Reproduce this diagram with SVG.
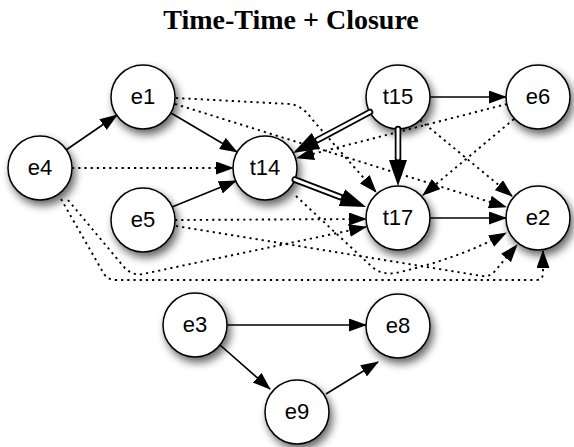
<svg xmlns="http://www.w3.org/2000/svg" width="574" height="447" viewBox="0 0 574 447">
<style>
.title{font-family:"Liberation Serif","Times New Roman",serif;font-weight:bold;font-size:28px;fill:#000}
.node circle{fill:#fff;stroke:#000;stroke-width:1.5}
.node text{font-family:"Liberation Sans",Arial,sans-serif;font-size:22px;fill:#000;text-anchor:middle}
.solid{fill:none;stroke:#000;stroke-width:1.6;marker-end:url(#arr)}
.dot{fill:none;stroke:#000;stroke-width:1.9;stroke-dasharray:2.2 4;marker-end:url(#arr)}
.dblout{fill:none;stroke:#000;stroke-width:6.5;stroke-linecap:round;marker-end:url(#big)}
.dblin{fill:none;stroke:#fff;stroke-width:3;stroke-linecap:round}
</style>
<defs>
<filter id="sh" x="-40%" y="-40%" width="190%" height="190%">
<feGaussianBlur in="SourceAlpha" stdDeviation="4"/>
<feOffset dx="3" dy="5" result="b"/>
<feComponentTransfer><feFuncA type="linear" slope="0.6"/></feComponentTransfer>
<feMerge><feMergeNode/><feMergeNode in="SourceGraphic"/></feMerge>
</filter>
<marker id="arr" viewBox="0 0 18 13" markerUnits="userSpaceOnUse" markerWidth="18" markerHeight="13" refX="17" refY="6.5" orient="auto">
<path d="M0,0 L18,6.5 L0,13 z" fill="#000" stroke="none"/>
</marker>
<marker id="big" viewBox="0 0 26 18" markerUnits="userSpaceOnUse" markerWidth="26" markerHeight="18" refX="0" refY="9" orient="auto">
<path d="M0,0 L26,9 L0,18 z" fill="#000" stroke="none"/>
</marker>
</defs>
<rect width="574" height="447" fill="#fff"/>
<text class="title" x="291" y="29" text-anchor="middle">Time-Time + Closure</text>
<g id="nodes">
<g id="e1" class="node"><circle cx="143" cy="97" r="32" filter="url(#sh)"/><text x="143" y="104">e1</text></g>
<g id="e4" class="node"><circle cx="40" cy="168" r="32" filter="url(#sh)"/><text x="40" y="175">e4</text></g>
<g id="t14" class="node"><circle cx="265" cy="168" r="32" filter="url(#sh)"/><text x="265" y="175">t14</text></g>
<g id="e5" class="node"><circle cx="143" cy="220" r="32" filter="url(#sh)"/><text x="143" y="227">e5</text></g>
<g id="t15" class="node"><circle cx="398" cy="97" r="32" filter="url(#sh)"/><text x="398" y="104">t15</text></g>
<g id="e6" class="node"><circle cx="538" cy="97" r="32" filter="url(#sh)"/><text x="538" y="104">e6</text></g>
<g id="t17" class="node"><circle cx="398" cy="218" r="32" filter="url(#sh)"/><text x="398" y="225">t17</text></g>
<g id="e2" class="node"><circle cx="538" cy="218" r="32" filter="url(#sh)"/><text x="538" y="225">e2</text></g>
<g id="e3" class="node"><circle cx="195" cy="325" r="32" filter="url(#sh)"/><text x="195" y="332">e3</text></g>
<g id="e8" class="node"><circle cx="398" cy="326" r="32" filter="url(#sh)"/><text x="398" y="333">e8</text></g>
<g id="e9" class="node"><circle cx="297" cy="412" r="32" filter="url(#sh)"/><text x="297" y="419">e9</text></g>
</g>
<g id="connectors">
<path class="solid" d="M66,150 L117,115"/>
<path class="solid" d="M171,113 L237,152"/>
<path class="solid" d="M172,207 L236,181"/>
<path class="solid" d="M430,97 L506,97"/>
<path class="solid" d="M430,218 L506,218"/>
<path class="solid" d="M227,325 L366,325"/>
<path class="solid" d="M220,345 L270,389"/>
<path class="solid" d="M326,394 L378,362"/>
<path class="dot" d="M72,168 L233,168"/>
<path class="dot" d="M176,98 L290,104 Q303,106 311,118 L376,192"/>
<path class="dot" d="M175,104 L506,207"/>
<path class="dot" d="M420,120 L512,196"/>
<path class="dot" d="M507,104 L297,158"/>
<path class="dot" d="M514,119 L423,195"/>
<path class="dot" d="M175,220 L366,219"/>
<path class="dot" d="M68,200 L124,267 Q132,276 143,274 L366,227"/>
<path class="dot" d="M61,199 L104,274 Q108,280 116,280 L536,280 Q543,280 543,273 L543,251"/>
<path class="dot" d="M296,196 L370,265 Q382,277 400,272 Q460,258 506,233"/>
<path class="dot" d="M176,226 L482,276 Q490,277 495,271 L517,245"/>
<path class="dblout" d="M370,112 L316,140.8"/>
<path class="dblin" d="M370,112 L317.7,139.9"/>
<path class="dblout" d="M398,129 L398,160"/>
<path class="dblin" d="M398,129 L398,158"/>
<path class="dblout" d="M294.8,179.6 L341.8,197.6"/>
<path class="dblin" d="M294.8,179.6 L339.9,196.9"/>
</g>
</svg>
